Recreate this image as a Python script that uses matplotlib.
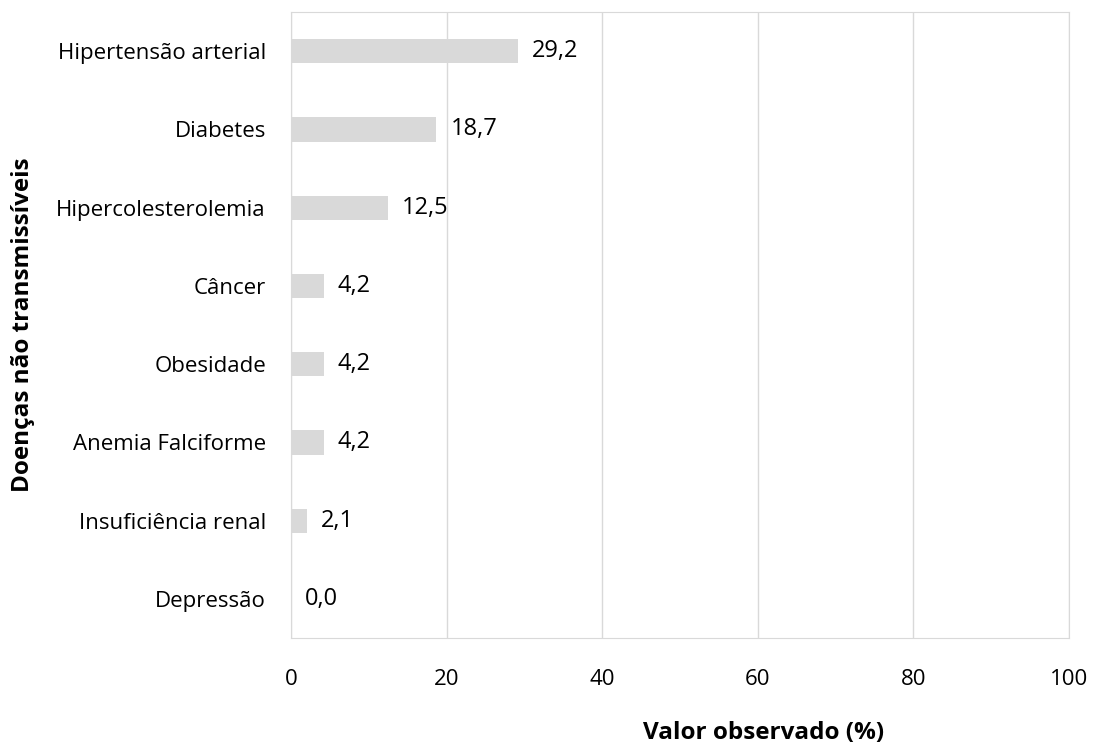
import matplotlib.pyplot as plt

# --- données ---
doencas = ["Hipertensão arterial", "Diabetes", "Hipercolesterolemia", "Câncer",
           "Obesidade", "Anemia Falciforme", "Insuficiência renal", "Depressão"]
valores = [29.2, 18.7, 12.5, 4.2, 4.2, 4.2, 2.1, 0.0]
xticks = [0, 20, 40, 60, 80, 100]

plt.rcParams["font.family"] = ["Open Sans", "DejaVu Sans"]

fig = plt.figure(figsize=(10.93, 7.49), dpi=100)
ax = fig.add_axes([0.2662, 0.148, 0.7118, 0.836])

pos = list(range(len(doencas)))[::-1]
ax.barh(pos, valores, height=0.31, color="#d9d9d9", zorder=2)

# étiquettes de valeur
for p, v in zip(pos, valores):
    ax.annotate(f"{v:.1f}".replace(".", ","), (v, p), xytext=(10, 0),
                textcoords="offset points", va="center", ha="left", fontsize=17)

ax.set_xlim(0, 100)
ax.set_ylim(-0.5, len(doencas) - 0.5)
ax.set_xticks(xticks)
ax.set_yticks(pos)
ax.set_yticklabels(doencas)
ax.tick_params(axis="both", length=0, labelsize=16)
ax.tick_params(axis="x", pad=22)
ax.tick_params(axis="y", pad=18)
ax.grid(axis="x", color="#d9d9d9", linewidth=1, zorder=0)
for s in ax.spines.values():
    s.set_color("#d9d9d9")

ax.set_xlabel("Valor observado (%)", fontsize=17.5, fontweight="bold", va="center")
ax.xaxis.set_label_coords(0.607, -0.152)
ax.set_ylabel("Doenças não transmissíveis", fontsize=17.5, fontweight="bold", va="center")
ax.yaxis.set_label_coords(-0.344, 0.5)

fig.savefig("out.png", dpi=100)
